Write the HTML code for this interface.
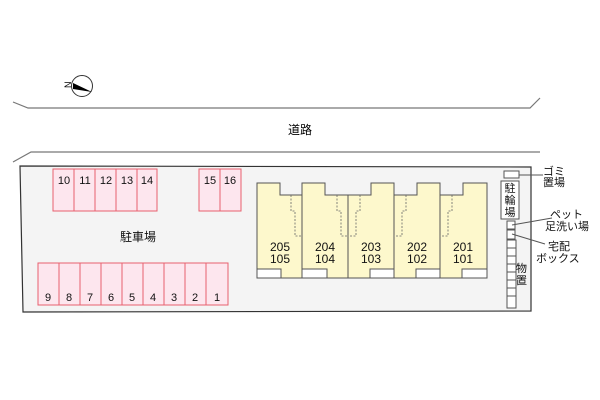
<!DOCTYPE html>
<html><head><meta charset="utf-8"><style>
body{margin:0;background:#fff}
svg{display:block;font-family:"Liberation Sans","Noto Sans CJK JP",sans-serif}
</style></head><body>
<svg width="600" height="400" viewBox="0 0 600 400">
<polyline points="13,102 28,108 530,108 540,98" fill="none" stroke="#777" stroke-width="1.2"/>
<polyline points="13,162 31,152 540,152" fill="none" stroke="#777" stroke-width="1.2"/>
<text x="300" y="134" font-size="12" text-anchor="middle">道路</text>
<g transform="translate(82,86)">
<circle r="10.5" fill="#fff" stroke="#333"/>
<polygon points="-9,-3 10,6 -9,3" fill="#000" transform="rotate(0)"/>
<text x="-17" y="4" font-size="9" transform="rotate(-90 -15 0)">N</text>
</g>
<polygon points="20,166 531,167 531,311 23,312" fill="#f4f4f4" stroke="#333" stroke-width="1.2"/>
<g fill="#fde6ee" stroke="#e8606e" stroke-width="1" font-size="11" text-anchor="middle">
<rect x="53" y="169" width="21" height="42"/><rect x="74" y="169" width="21" height="42"/><rect x="95" y="169" width="21" height="42"/><rect x="116" y="169" width="21" height="42"/><rect x="137" y="169" width="20" height="42"/>
<rect x="199" y="169" width="21" height="42"/><rect x="220" y="169" width="21" height="42"/>
<rect x="38" y="263" width="21" height="42"/><rect x="59" y="263" width="21" height="42"/><rect x="80" y="263" width="21" height="42"/><rect x="101" y="263" width="21" height="42"/><rect x="122" y="263" width="21" height="42"/><rect x="143" y="263" width="21" height="42"/><rect x="164" y="263" width="21" height="42"/><rect x="185" y="263" width="21" height="42"/><rect x="206" y="263" width="22" height="42"/>
</g>
<g font-size="11" text-anchor="middle" fill="#111">
<text x="64" y="184">10</text><text x="85" y="184">11</text><text x="106" y="184">12</text><text x="127" y="184">13</text><text x="147" y="184">14</text><text x="210" y="184">15</text><text x="230" y="184">16</text>
<text x="48" y="301">9</text><text x="69" y="301">8</text><text x="90" y="301">7</text><text x="111" y="301">6</text><text x="132" y="301">5</text><text x="153" y="301">4</text><text x="174" y="301">3</text><text x="195" y="301">2</text><text x="217" y="301">1</text>
<text x="138" y="241" font-size="12">駐車場</text>
</g>
<g fill="#fdf8cc" stroke="#555" stroke-width="1">
<polygon points="257,183 280,183 280,195 302,195 302,278 257,278"/>
<polygon points="302,183 325,183 325,195 348,195 348,278 302,278"/>
<polygon points="348,195 371,195 371,183 394,183 394,278 348,278"/>
<polygon points="394,195 417,195 417,183 440,183 440,278 394,278"/>
<polygon points="440,195 463,195 463,183 487,183 487,278 440,278"/>
</g>
<g fill="#fff" stroke="#555" stroke-width="1">
<rect x="257" y="269" width="24" height="9"/><rect x="302" y="269" width="25" height="9"/><rect x="370" y="269" width="24" height="9"/><rect x="416" y="269" width="24" height="9"/><rect x="462" y="269" width="25" height="9"/>
</g>
<g fill="none" stroke="#666" stroke-dasharray="2,1.5" stroke-width="0.8">
<polyline points="291,195 291,211 295,211 295,236 302,236"/>
<polyline points="337,195 337,211 341,211 341,236 348,236"/>
<polyline points="360,195 360,211 356,211 356,236 348,236"/>
<polyline points="406,195 406,211 402,211 402,236 394,236"/>
<polyline points="452,195 452,211 448,211 448,236 440,236"/>
</g>
<g font-size="12" text-anchor="middle" fill="#111">
<text x="280" y="251">205</text><text x="280" y="263">105</text>
<text x="325" y="251">204</text><text x="325" y="263">104</text>
<text x="371" y="251">203</text><text x="371" y="263">103</text>
<text x="417" y="251">202</text><text x="417" y="263">102</text>
<text x="463" y="251">201</text><text x="463" y="263">101</text>
</g>
<g fill="#fff" stroke="#555" stroke-width="1">
<rect x="504" y="171" width="15" height="7"/>
<rect x="501" y="181" width="18" height="38"/>
<rect x="507" y="221" width="8" height="8"/>
<rect x="507" y="230" width="8" height="9"/>
<rect x="507" y="240" width="9" height="68"/>
</g>
<g stroke="#555" stroke-width="1">
<line x1="507" y1="248" x2="516" y2="248"/><line x1="507" y1="256" x2="516" y2="256"/><line x1="507" y1="264" x2="516" y2="264"/><line x1="507" y1="272" x2="516" y2="272"/><line x1="507" y1="280" x2="516" y2="280"/><line x1="507" y1="288" x2="516" y2="288"/><line x1="507" y1="296" x2="516" y2="296"/>
<line x1="519" y1="175" x2="543" y2="175"/>
<line x1="512" y1="225" x2="552" y2="218"/>
<line x1="512" y1="234" x2="545" y2="244"/>
</g>
<g font-size="11" fill="#111">
<text x="543" y="175">ゴミ</text><text x="543" y="186">置場</text>
<text x="510" y="192" text-anchor="middle">駐</text><text x="510" y="204" text-anchor="middle">輪</text><text x="510" y="216" text-anchor="middle">場</text>
<text x="550" y="218">ペット</text><text x="545" y="230">足洗い場</text>
<text x="548" y="250">宅配</text><text x="536" y="262">ボックス</text>
<text x="516" y="272">物</text><text x="516" y="284">置</text>
</g>
</svg>
</body></html>
